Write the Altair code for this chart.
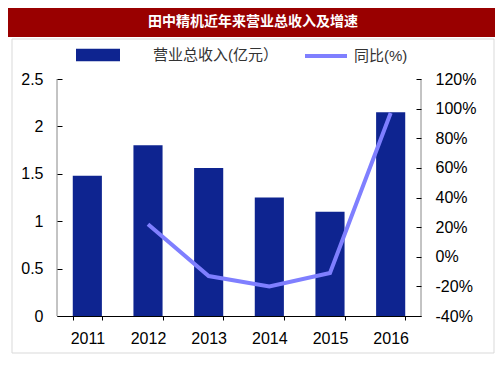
import altair as alt
import pandas as pd

# ---- data ----
years = ["2011", "2012", "2013", "2014", "2015", "2016"]
revenue = [1.48, 1.80, 1.56, 1.25, 1.10, 2.15]          # 营业总收入(亿元)
growth = [None, 22, -13, -20, -11, 97]                  # 同比(%)
left_ticks = [0, 0.5, 1, 1.5, 2, 2.5]
right_ticks = [-40, -20, 0, 20, 40, 60, 80, 100, 120]

TITLE = "田中精机近年来营业总收入及增速"
BAR_NAME = "营业总收入(亿元）"
LINE_NAME = "同比(%)"

BAR_COLOR = "#0e2490"
LINE_COLOR = "#7f7fff"
RED = "#990000"
FONT = "Liberation Sans, Arial, Noto Sans CJK SC"
CJK = "Noto Sans CJK SC"

W, H = 364, 237
PAD = {"left": 49, "top": 71, "right": 74, "bottom": 46}

df = pd.DataFrame({
    "year": years,
    "revenue": revenue,
    "growth": growth,
    "bar_s": [BAR_NAME] * len(years),
    "line_s": [LINE_NAME] * len(years),
})
one = pd.DataFrame({"k": [0]})

x_enc = alt.X(
    "year:N",
    sort=years,
    scale=alt.Scale(paddingInner=0.52, paddingOuter=0.26),
    axis=alt.Axis(
        title=None, labelAngle=0, domainColor="#000000", domainWidth=1,
        tickColor="#000000", tickSize=4, tickBand="extent", zindex=1,
        labelFont=FONT, labelFontSize=16, labelColor="#000000", labelPadding=10,
    ),
)

# decorations
panel = alt.Chart(one).mark_rect(fillOpacity=0, stroke="#d9d9d9", strokeWidth=1).encode(
    x=alt.value(-45), x2=alt.value(437), y=alt.value(-40), y2=alt.value(274)
)
title_bar = alt.Chart(one).mark_rect(fill=RED).encode(
    x=alt.value(-PAD["left"]), x2=alt.value(W + PAD["right"]),
    y=alt.value(-PAD["top"]), y2=alt.value(-42)
)
title_text = alt.Chart(one).mark_text(
    font=CJK, fontSize=14, fontWeight="bold", color="white", align="center", baseline="middle"
).encode(x=alt.value(196), y=alt.value(-57), text=alt.value(TITLE))

bars = alt.Chart(df).mark_bar().encode(
    x=x_enc,
    y=alt.Y(
        "revenue:Q",
        scale=alt.Scale(domain=[0, 2.5], nice=False, zero=True),
        axis=alt.Axis(
            title=None, orient="left", values=left_ticks, format="~g", grid=False,
            domain=False, offset=-5, tickColor="#000000", tickSize=5, zindex=1,
            labelFont=FONT, labelFontSize=16, labelColor="#000000", labelPadding=14,
        ),
    ),
    color=alt.Color(
        "bar_s:N",
        scale=alt.Scale(domain=[BAR_NAME], range=[BAR_COLOR]),
        legend=alt.Legend(
            title=None, orient="none", legendX=19, legendY=-46, padding=0,
            symbolType="M-1,-0.28H1V0.28H-1Z", symbolSize=1936, symbolStrokeWidth=0,
            labelOffset=33, labelFont=FONT, labelFontSize=15, labelColor="#333333",
        ),
    ),
)

line = alt.Chart(df).mark_line(strokeWidth=4).encode(
    x=x_enc,
    y=alt.Y(
        "growth:Q",
        scale=alt.Scale(domain=[-40, 120], nice=False, zero=False),
        axis=alt.Axis(
            title=None, orient="right", values=right_ticks, labelExpr="datum.value + '%'",
            grid=False, domain=False, offset=-5, tickColor="#000000", tickSize=5, zindex=1,
            labelFont=FONT, labelFontSize=16, labelColor="#000000", labelPadding=14,
        ),
    ),
    stroke=alt.Stroke(
        "line_s:N",
        scale=alt.Scale(domain=[LINE_NAME], range=[LINE_COLOR]),
        legend=alt.Legend(
            title=None, orient="none", legendX=246, legendY=-46, padding=0,
            symbolType="stroke", symbolSize=1764, symbolStrokeWidth=4,
            labelOffset=5, labelFont=FONT, labelFontSize=15, labelColor="#333333",
        ),
    ),
)

left_dom = alt.Chart(one).mark_rule(color="#888888", strokeWidth=1).encode(
    x=alt.value(0), y=alt.value(0), y2=alt.value(H)
)
right_dom = alt.Chart(one).mark_rule(color="#888888", strokeWidth=1).encode(
    x=alt.value(W), y=alt.value(0), y2=alt.value(H)
)

chart = alt.layer(
    panel, title_bar, title_text, bars, line, left_dom, right_dom
).resolve_scale(
    y="independent", color="independent", stroke="independent"
).properties(
    width=W, height=H,
    autosize=alt.AutoSizeParams(type="none"),
    padding=PAD,
).configure_view(stroke=None)

chart.save("out.html", embed_options={"renderer": "svg", "actions": False})
